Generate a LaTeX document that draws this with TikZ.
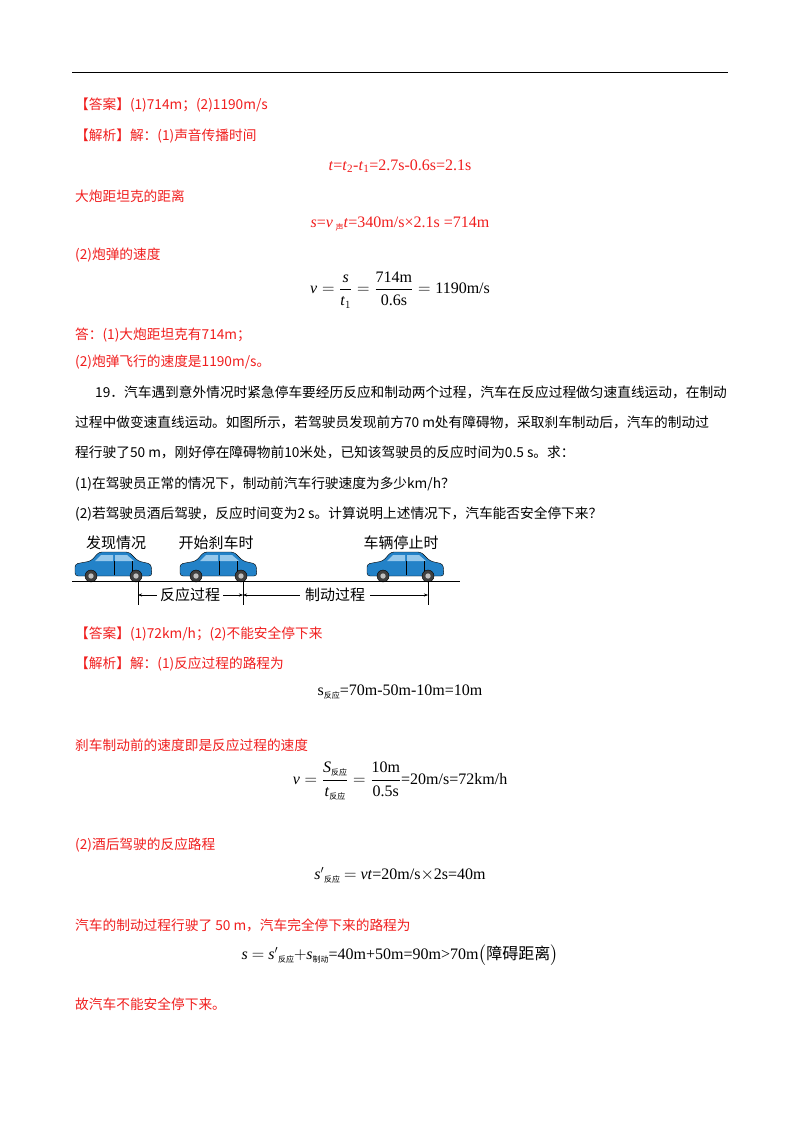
\documentclass[tikz,border=0pt]{standalone}
\usepackage{amsmath}
\usepackage{fontspec}
\setmainfont{Liberation Serif}
\newfontfamily\cjk{Noto Sans CJK SC}
\usepackage{tikz}
\usetikzlibrary{arrows.meta}
\definecolor{ansred}{RGB}{240,30,30}
\definecolor{carblue}{RGB}{35,130,200}
\definecolor{glass}{RGB}{150,200,235}
\tikzset{
  line/.style={anchor=west,inner sep=0pt,font=\cjk\fontsize{13.7}{16}\selectfont},
  redline/.style={line,text=ansred},
  formula/.style={inner sep=0pt,font=\fontsize{16}{18}\selectfont},
  caption/.style={inner sep=0pt,font=\cjk\fontsize{15}{17}\selectfont}
}
\newcommand\zh[1]{\raisebox{-3pt}{\cjk\fontsize{8}{8}\selectfont #1}}
% one car, left end of body at x=#1
\newcommand\carat[1]{%
\begin{scope}[shift={(#1,578)}]
  \draw[fill=carblue,rounded corners=3pt] (0,-2) -- (0,-14) -- (16,-17) -- (24,-26) -- (54,-26) -- (63,-17) -- (76,-14) -- (77,-2) -- cycle;
  \fill[glass] (20,-17) -- (26,-23) -- (38,-23) -- (38,-17) -- cycle;
  \fill[glass] (40,-17) -- (40,-23) -- (52,-23) -- (59,-17) -- cycle;
  \draw (39,-17) -- (39,-3) (57,-17) -- (57,-3);
  \draw[fill=darkgray] (16,-2) circle (6) (61,-2) circle (6);
  \fill[lightgray] (16,-2) circle (2.7) (61,-2) circle (2.7);
\end{scope}}
\begin{document}
\begin{tikzpicture}[x=1pt,y=-1pt]
\useasboundingbox (0,0) rectangle (800,1132);
\draw[thick] (72,72) -- (728,72);
\node[redline] (ans1) at (75,105) {【答案】(1)714m；(2)1190m/s};
\node[redline] (ana1) at (75,136) {【解析】解：(1)声音传播时间};
\node[formula,text=ansred] (f1) at (400,166) {\textit{t}=\textit{t}\textsubscript{2}-\textit{t}\textsubscript{1}=2.7s-0.6s=2.1s};
\node[redline] (l3) at (75,196) {大炮距坦克的距离};
\node[formula,text=ansred] (f2) at (400,224) {\textit{s}=\textit{v}\,\zh{声}\textit{t}=340m/s×2.1s =714m};
\node[redline] (l5) at (75,255) {(2)炮弹的速度};
\node[formula] (f3) at (400,290) {$\text{\textit{v}}=\dfrac{\text{\textit{s}}}{\text{\textit{t}}_1}=\dfrac{\text{714m}}{\text{0.6s}}=\text{1190m/s}$};
\node[redline] (l7) at (75,335) {答：(1)大炮距坦克有714m；};
\node[redline] (l8) at (75,362) {(2)炮弹飞行的速度是1190m/s。};
\node[line] (q1) at (95,392) {19．汽车遇到意外情况时紧急停车要经历反应和制动两个过程，汽车在反应过程做匀速直线运动，在制动};
\node[line] (q2) at (75,422) {过程中做变速直线运动。如图所示，若驾驶员发现前方70 m处有障碍物，采取刹车制动后，汽车的制动过};
\node[line] (q3) at (75,452) {程行驶了50 m，刚好停在障碍物前10米处，已知该驾驶员的反应时间为0.5 s。求：};
\node[line] (q4) at (75,484) {(1)在驾驶员正常的情况下，制动前汽车行驶速度为多少km/h？};
\node[line] (q5) at (75,514) {(2)若驾驶员酒后驾驶，反应时间变为2 s。计算说明上述情况下，汽车能否安全停下来？};
% picture
\carat{75}
\carat{180}
\carat{367}
\draw (72,581) -- (460,581);
\node[caption] (see) at (116,543) {发现情况};
\node[caption] (brake) at (216,543) {开始刹车时};
\node[caption] (stop) at (401,543) {车辆停止时};
\coordinate (ta) at (138,595);
\coordinate (tb) at (243,595);
\coordinate (tc) at (428,595);
\foreach \t in {ta,tb,tc} \draw (\t) ++(0,-14) -- ++(0,24);
\node[caption] (react) at (190,595) {反应过程};
\node[caption] (brk) at (335,595) {制动过程};
\draw[-{Stealth[length=4pt]}] (react.west) ++(-3,0) -- (ta);
\draw[-{Stealth[length=4pt]}] (react.east) ++(3,0) -- (tb);
\draw[-{Stealth[length=4pt]}] (brk.west) ++(-5,0) -- (tb);
\draw[-{Stealth[length=4pt]}] (brk.east) ++(5,0) -- (tc);
\node[redline] (ans2) at (75,634) {【答案】(1)72km/h；(2)不能安全停下来};
\node[redline] (ana2) at (75,664) {【解析】解：(1)反应过程的路程为};
\node[formula] (f4) at (400,692) {s\zh{反应}=70m-50m-10m=10m};
\node[redline] (l12) at (75,745) {刹车制动前的速度即是反应过程的速度};
\node[formula] (f5) at (400,781) {$\text{\textit{v}}=\dfrac{\text{\textit{S}\zh{反应}}}{\text{\textit{t}\zh{反应}}}=\dfrac{\text{10m}}{\text{0.5s}}$=20m/s=72km/h};
\node[redline] (l14) at (75,845) {(2)酒后驾驶的反应路程};
\node[formula] (f6) at (400,875) {$\text{\textit{s}}'$\zh{反应} $=$ \textit{vt}=20m/s$\times$2s=40m};
\node[redline] (l16) at (75,925) {汽车的制动过程行驶了 50 m，汽车完全停下来的路程为};
\node[formula] (f7) at (400,955) {\textit{s} $=$ \textit{s}$'$\zh{反应}$+$\textit{s}\zh{制动}=40m+50m=90m>70m$\big($\cjk 障碍距离$\big)$};
\node[redline] (l18) at (75,1004) {故汽车不能安全停下来。};
\end{tikzpicture}
\end{document}
